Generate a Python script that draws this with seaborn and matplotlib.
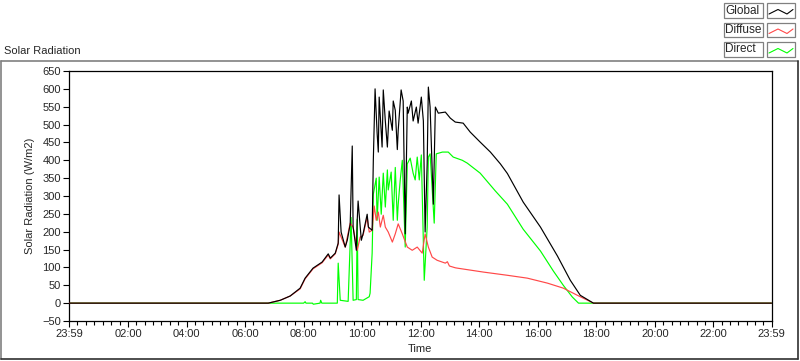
import numpy as np
import pandas as pd
import matplotlib
matplotlib.use("Agg")
import matplotlib.pyplot as plt
from matplotlib.lines import Line2D
from matplotlib.patches import Rectangle
import seaborn as sns

# ---------------- data (hours since midnight, W/m2) ----------------
global_t = [0.0, 6.79, 7.20, 7.54, 7.88, 8.05, 8.32, 8.63, 8.84, 8.91, 9.08, 9.18, 9.21, 9.28,
            9.42, 9.49, 9.59, 9.66, 9.69, 9.80, 9.83, 9.86, 9.97, 10.03, 10.17, 10.21, 10.34,
            10.38, 10.44, 10.51, 10.55, 10.58, 10.68, 10.72, 10.79, 10.86, 10.92, 11.03, 11.06,
            11.13, 11.16, 11.20, 11.23, 11.33, 11.40, 11.47, 11.54, 11.57, 11.68, 11.74, 11.85,
            11.91, 12.02, 12.09, 12.15, 12.22, 12.26, 12.32, 12.43, 12.50, 12.60, 12.84, 13.01,
            13.18, 13.45, 13.69, 14.03, 14.38, 14.72, 14.96, 15.50, 16.09, 16.67, 17.11, 17.45,
            17.90, 23.983]
global_v = [0, 0, 8, 20, 42, 70, 98, 115, 138, 126, 140, 168, 303, 199,
            157, 176, 221, 440, 213, 148, 232, 286, 176, 194, 249, 213, 204,
            400, 600, 476, 423, 577, 437, 597, 510, 437, 538, 484, 566,
            540, 493, 430, 484, 597, 566, 194, 549, 532, 566, 510, 549,
            504, 577, 510, 199, 390, 605, 549, 277, 549, 532, 535, 518,
            507, 504, 479, 451, 423, 390, 363, 283, 213, 132, 64, 22,
            0, 0]

diffuse_t = [0.0, 6.79, 7.20, 7.54, 7.88, 8.05, 8.32, 8.63, 8.84, 8.91, 9.08, 9.18, 9.21, 9.28,
             9.42, 9.59, 9.69, 9.83, 9.93, 10.03, 10.17, 10.24, 10.34, 10.41, 10.48, 10.55,
             10.62, 10.72, 10.79, 10.89, 11.03, 11.13, 11.23, 11.37, 11.54, 11.71, 11.88, 12.05,
             12.15, 12.26, 12.39, 12.56, 12.84, 12.91, 12.98, 13.18, 13.25, 14.14, 14.96, 15.64,
             16.33, 16.87, 17.35, 17.90, 23.983]
diffuse_v = [0, 0, 8, 20, 40, 68, 96, 113, 135, 124, 138, 165, 199, 185,
             157, 224, 213, 148, 185, 190, 241, 199, 204, 272, 232, 255,
             213, 246, 213, 199, 171, 194, 222, 194, 157, 148, 157, 140,
             194, 157, 129, 120, 112, 116, 104, 99, 98, 87, 78, 70,
             56, 42, 22, 0, 0]

direct_t = [0.0, 8.00, 8.05, 8.08, 8.30, 8.33, 8.56, 8.58, 8.62, 9.15, 9.18, 9.25, 9.52, 9.62,
            9.69, 9.80, 9.83, 9.86, 10.03, 10.24, 10.27, 10.34, 10.38, 10.48, 10.51, 10.58,
            10.65, 10.72, 10.79, 10.86, 10.89, 10.99, 11.06, 11.13, 11.20, 11.23, 11.30, 11.37,
            11.47, 11.54, 11.64, 11.74, 11.81, 11.88, 11.95, 12.02, 12.12, 12.22, 12.26, 12.32,
            12.46, 12.53, 12.74, 12.94, 13.11, 13.42, 13.59, 14.03, 14.55, 14.96, 15.50, 16.09,
            16.53, 16.87, 17.18, 17.39, 23.983]
direct_v = [0, 0, 4, 0, 0, -3, 0, 8, 0, 0, 112, 8, 5, 240,
            8, 10, 235, 10, 8, 18, 28, 140, 305, 350, 232, 353,
            249, 364, 269, 373, 317, 367, 232, 380, 232, 277, 345, 400,
            157, 390, 406, 364, 345, 409, 345, 415, 64, 213, 409, 418,
            224, 418, 423, 423, 409, 400, 392, 364, 314, 277, 207, 146,
            90, 50, 17, 0, 0]

tick_labels = ["23:59", "02:00", "04:00", "06:00", "08:00", "10:00", "12:00",
               "14:00", "16:00", "18:00", "20:00", "22:00", "23:59"]
series_names = ["Global", "Diffuse", "Direct"]
series_colors = ["#000000", "#ff4848", "#00ff00"]

# ---------------- figure ----------------
sns.set_style("white")
plt.rcParams["font.family"] = ["Liberation Sans", "DejaVu Sans"]
plt.rcParams["font.size"] = 8

fig = plt.figure(figsize=(8.0, 3.61), dpi=100)
W, H = 800.0, 361.0
ax = fig.add_axes([69 / W, 1 - 321 / H, (771.5 - 69) / W, (321 - 71) / H])

df_d = pd.DataFrame({"t": direct_t, "v": direct_v})
df_f = pd.DataFrame({"t": diffuse_t, "v": diffuse_v})
df_g = pd.DataFrame({"t": global_t, "v": global_v})

sns.lineplot(data=df_d, x="t", y="v", ax=ax, color=series_colors[2], lw=0.85,
             estimator=None, sort=False, zorder=2)
sns.lineplot(data=df_f, x="t", y="v", ax=ax, color=series_colors[1], lw=0.85,
             estimator=None, sort=False, zorder=3)
sns.lineplot(data=df_g, x="t", y="v", ax=ax, color=series_colors[0], lw=0.85,
             estimator=None, sort=False, zorder=4)

x0, x1 = -1 / 60, 23 + 59 / 60
ax.set_xlim(x0, x1)
ax.set_ylim(-50, 650)
majors = [x0] + list(range(2, 23, 2)) + [x1]
ax.set_xticks(majors)
ax.set_xticklabels(tick_labels)
minors = []
for a, b in zip(majors[:-1], majors[1:]):
    minors.extend(list(np.linspace(a, b, 8)[1:-1]))
ax.set_xticks(minors, minor=True)
ax.set_yticks(np.arange(-50, 651, 50))

ax.tick_params(axis="both", which="major", direction="out", length=4, width=0.8,
               color="black", labelsize=8, pad=2, bottom=True, left=True)
ax.tick_params(axis="x", which="minor", direction="out", length=3, width=0.8,
               color="black", bottom=True)
for s in ax.spines.values():
    s.set_color("black")
    s.set_linewidth(0.9)

ax.set_xlabel("Time", fontsize=8, labelpad=3)
ax.set_ylabel("Solar Radiation (W/m2)", fontsize=8, labelpad=5)

# title
fig.text(4 / W, 1 - 51 / H, "Solar Radiation", fontsize=8, ha="left", va="center")

# outer frame
fig.add_artist(Line2D([0.5 / W, 798 / W], [1 - 61 / H, 1 - 61 / H], color="#808080", lw=1.2))
fig.add_artist(Line2D([0.5 / W, 0.5 / W], [1 - 61 / H, 1 - 359 / H], color="#808080", lw=1.2))
fig.add_artist(Line2D([0.5 / W, 798 / W], [1 - 359 / H, 1 - 359 / H], color="#303030", lw=1.2))
fig.add_artist(Line2D([798 / W, 798 / W], [1 - 61 / H, 1 - 359 / H], color="#303030", lw=1.2))

# legend (boxed labels with line samples)
for i, (name, col) in enumerate(zip(series_names, series_colors)):
    top = 3 + i * 19.5
    fig.add_artist(Rectangle((724 / W, 1 - (top + 14.5) / H), 39 / W, 14.5 / H,
                             fill=False, edgecolor="#808080", lw=0.9))
    fig.text(725.5 / W, 1 - (top + 7.5) / H, name, fontsize=8.5, ha="left", va="center")
    fig.add_artist(Rectangle((767 / W, 1 - (top + 14.5) / H), 28 / W, 14.5 / H,
                             fill=False, edgecolor="#808080", lw=0.9))
    xs = np.array([769, 778, 787, 793]) / W
    ys = 1 - (top + np.array([11, 6.5, 11, 6.5])) / H
    fig.add_artist(Line2D(xs, ys, color=col, lw=0.8))

fig.savefig("out.png", dpi=100, facecolor="white")
